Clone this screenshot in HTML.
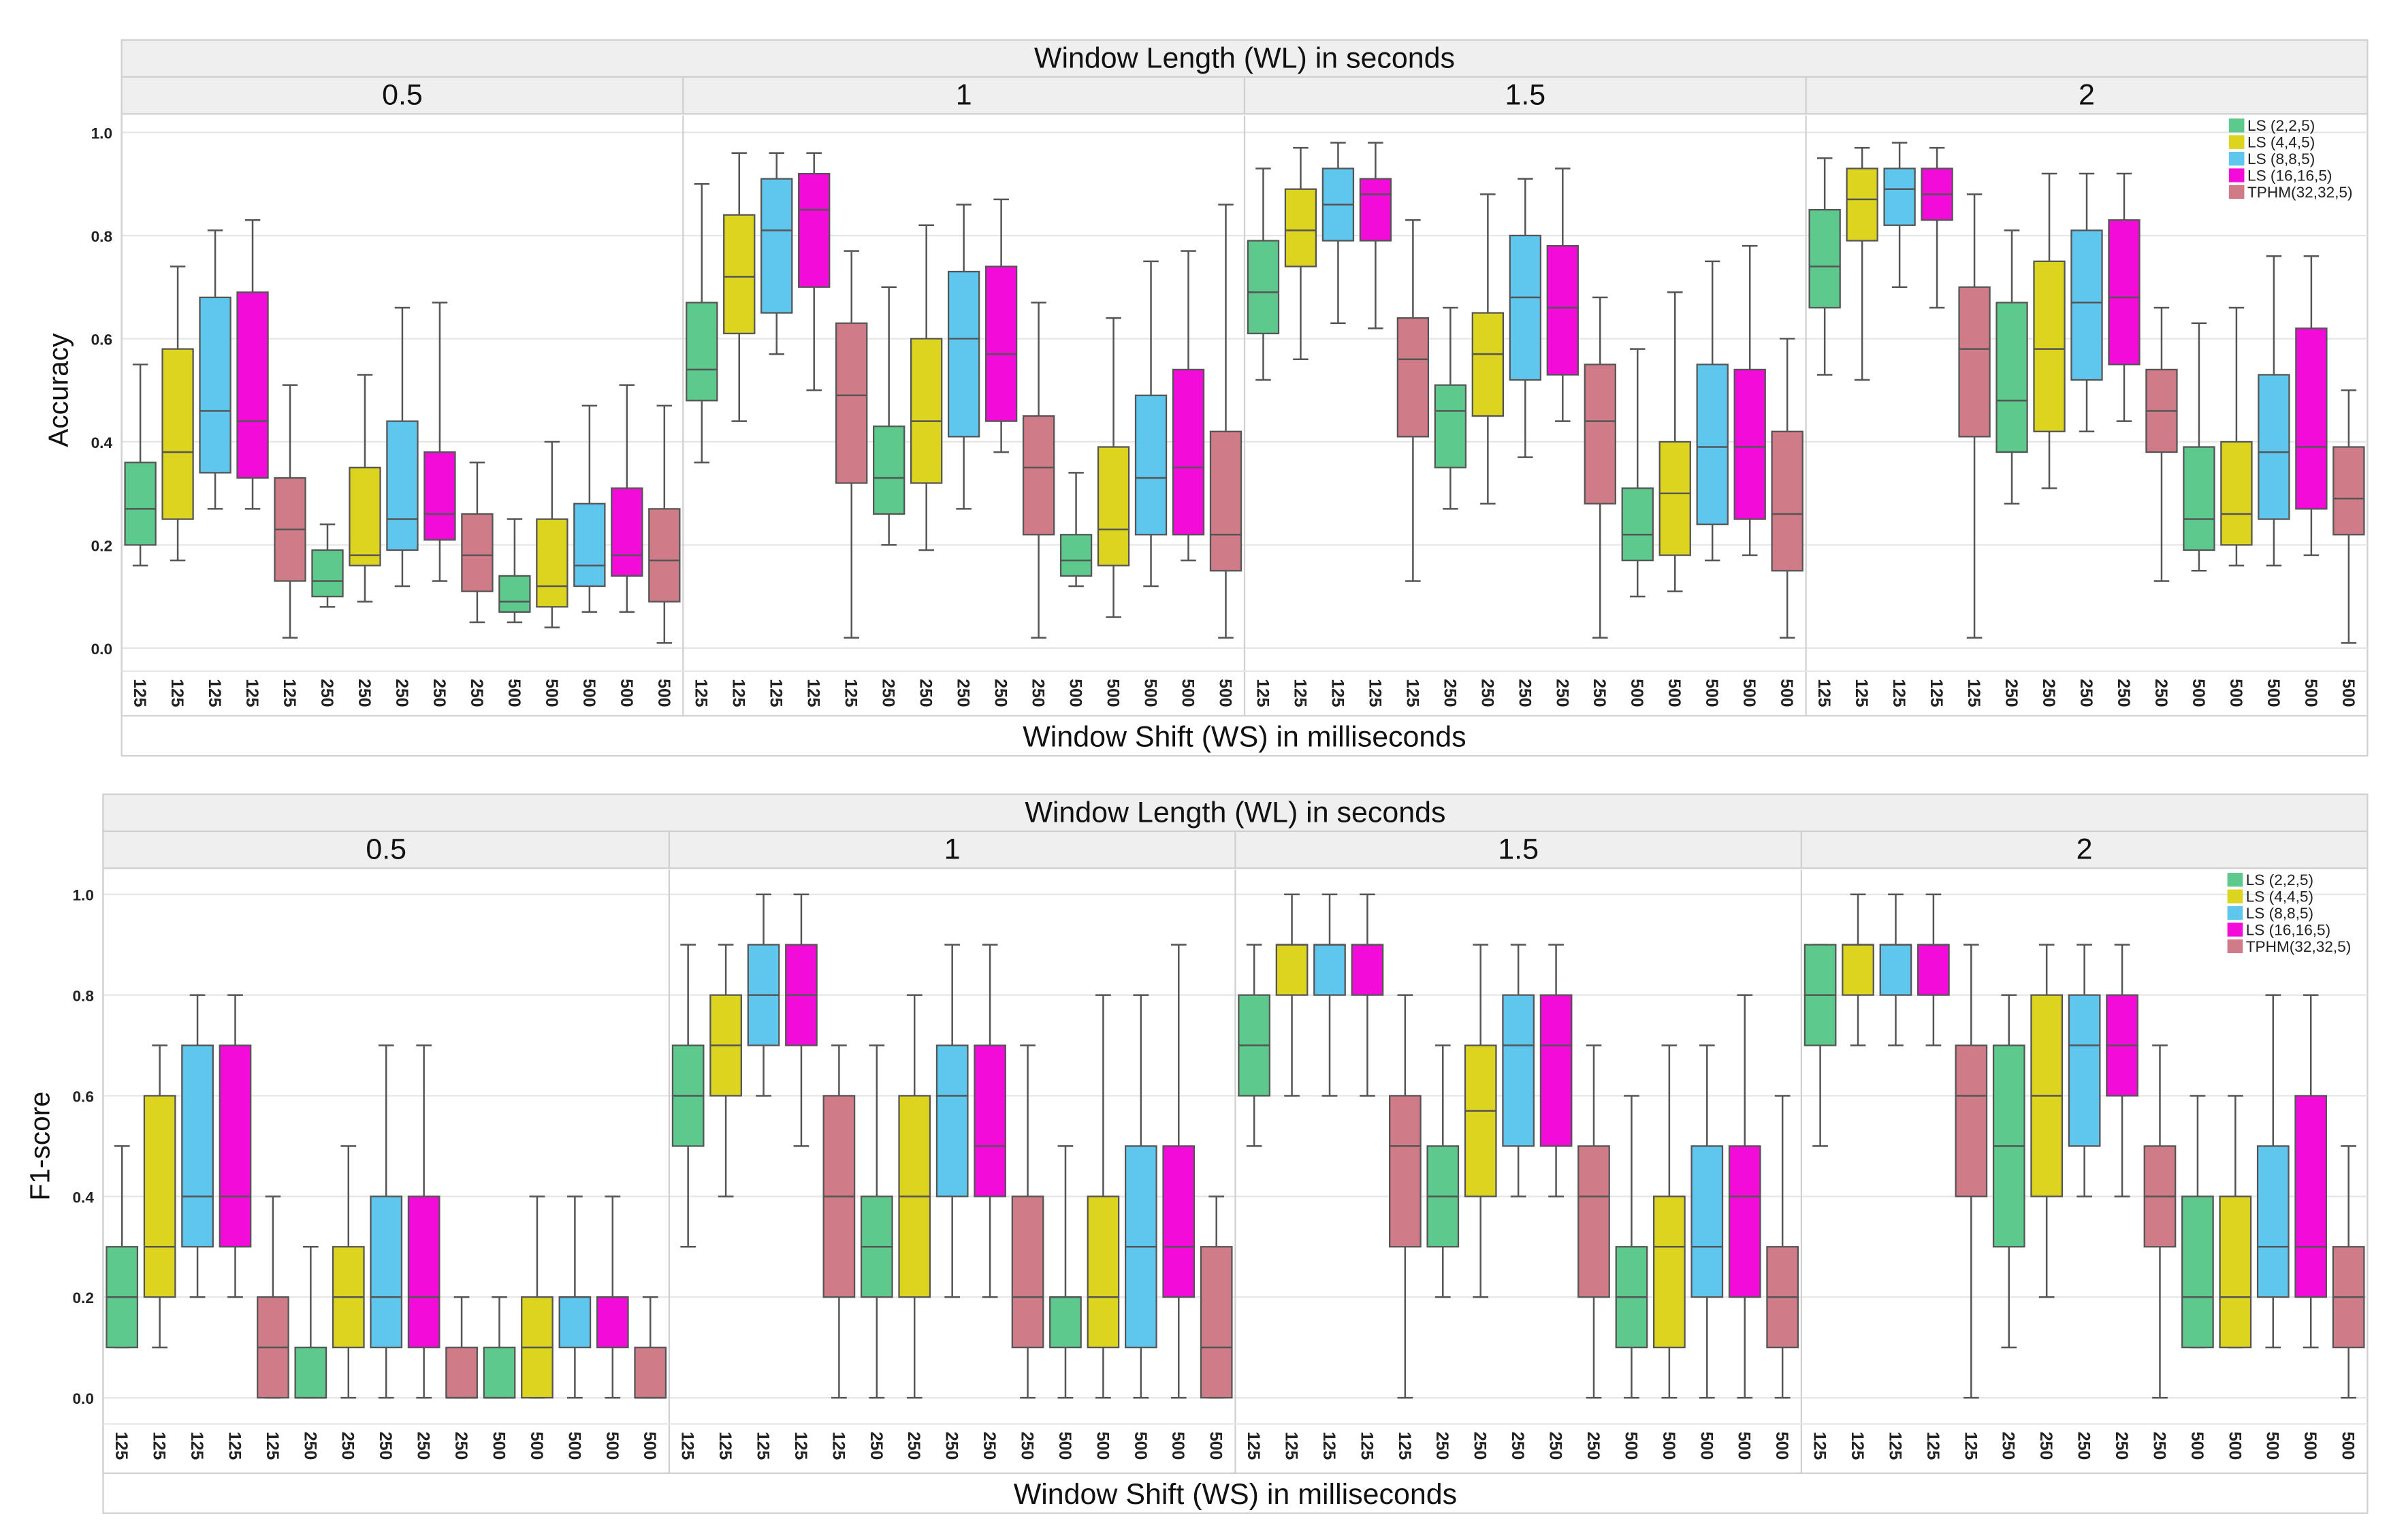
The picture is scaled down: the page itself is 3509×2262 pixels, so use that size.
<!DOCTYPE html>
<html><head><meta charset="utf-8"><style>
html,body{margin:0;padding:0;background:#fff;}
svg{display:block;font-family:"Liberation Sans",sans-serif;}
</style></head><body>
<svg id="chart" width="3509" height="2262" viewBox="0 0 1552 1000.4" preserveAspectRatio="none" xmlns="http://www.w3.org/2000/svg"></svg>
<script>
const wlLabels=["0.5","1","1.5","2"];
const wsLabels=["125","125","125","125","125","250","250","250","250","250","500","500","500","500","500"];
const seriesNames=["LS (2,2,5)","LS (4,4,5)","LS (8,8,5)","LS (16,16,5)","TPHM(32,32,5)"];
const seriesColors=["#5dc98c","#dcd41e","#5fc6ee","#f20bd9","#cf7b88"];
const yTicks=[0,0.2,0.4,0.6,0.8,1.0];

const accLo=[[0.16,0.17,0.27,0.27,0.02,0.08,0.09,0.12,0.13,0.05,0.05,0.04,0.07,0.07,0.01],
[0.36,0.44,0.57,0.50,0.02,0.20,0.19,0.27,0.38,0.02,0.12,0.06,0.12,0.17,0.02],
[0.52,0.56,0.63,0.62,0.13,0.27,0.28,0.37,0.44,0.02,0.10,0.11,0.17,0.18,0.02],
[0.53,0.52,0.70,0.66,0.02,0.28,0.31,0.42,0.44,0.13,0.15,0.16,0.16,0.18,0.01]];
const accQ1=[[0.20,0.25,0.34,0.33,0.13,0.10,0.16,0.19,0.21,0.11,0.07,0.08,0.12,0.14,0.09],
[0.48,0.61,0.65,0.70,0.32,0.26,0.32,0.41,0.44,0.22,0.14,0.16,0.22,0.22,0.15],
[0.61,0.74,0.79,0.79,0.41,0.35,0.45,0.52,0.53,0.28,0.17,0.18,0.24,0.25,0.15],
[0.66,0.79,0.82,0.83,0.41,0.38,0.42,0.52,0.55,0.38,0.19,0.20,0.25,0.27,0.22]];
const accMed=[[0.27,0.38,0.46,0.44,0.23,0.13,0.18,0.25,0.26,0.18,0.09,0.12,0.16,0.18,0.17],
[0.54,0.72,0.81,0.85,0.49,0.33,0.44,0.60,0.57,0.35,0.17,0.23,0.33,0.35,0.22],
[0.69,0.81,0.86,0.88,0.56,0.46,0.57,0.68,0.66,0.44,0.22,0.30,0.39,0.39,0.26],
[0.74,0.87,0.89,0.88,0.58,0.48,0.58,0.67,0.68,0.46,0.25,0.26,0.38,0.39,0.29]];
const accQ3=[[0.36,0.58,0.68,0.69,0.33,0.19,0.35,0.44,0.38,0.26,0.14,0.25,0.28,0.31,0.27],
[0.67,0.84,0.91,0.92,0.63,0.43,0.60,0.73,0.74,0.45,0.22,0.39,0.49,0.54,0.42],
[0.79,0.89,0.93,0.91,0.64,0.51,0.65,0.80,0.78,0.55,0.31,0.40,0.55,0.54,0.42],
[0.85,0.93,0.93,0.93,0.70,0.67,0.75,0.81,0.83,0.54,0.39,0.40,0.53,0.62,0.39]];
const accHi=[[0.55,0.74,0.81,0.83,0.51,0.24,0.53,0.66,0.67,0.36,0.25,0.40,0.47,0.51,0.47],
[0.90,0.96,0.96,0.96,0.77,0.70,0.82,0.86,0.87,0.67,0.34,0.64,0.75,0.77,0.86],
[0.93,0.97,0.98,0.98,0.83,0.66,0.88,0.91,0.93,0.68,0.58,0.69,0.75,0.78,0.60],
[0.95,0.97,0.98,0.97,0.88,0.81,0.92,0.92,0.92,0.66,0.63,0.66,0.76,0.76,0.50]];

const f1Lo=[[0.1,0.1,0.2,0.2,0,0,0,0,0,0,0,0,0,0,0],
[0.3,0.4,0.6,0.5,0,0,0,0.2,0.2,0,0,0,0,0,0],
[0.5,0.6,0.6,0.6,0,0.2,0.2,0.4,0.4,0,0,0,0,0,0],
[0.5,0.7,0.7,0.7,0,0.1,0.2,0.4,0.4,0,0.1,0.1,0.1,0.1,0]];
const f1Q1=[[0.1,0.2,0.3,0.3,0,0,0.1,0.1,0.1,0,0,0,0.1,0.1,0],
[0.5,0.6,0.7,0.7,0.2,0.2,0.2,0.4,0.4,0.1,0.1,0.1,0.1,0.2,0],
[0.6,0.8,0.8,0.8,0.3,0.3,0.4,0.5,0.5,0.2,0.1,0.1,0.2,0.2,0.1],
[0.7,0.8,0.8,0.8,0.4,0.3,0.4,0.5,0.6,0.3,0.1,0.1,0.2,0.2,0.1]];
const f1Med=[[0.2,0.3,0.4,0.4,0.1,0,0.2,0.2,0.2,0,0,0.1,0.2,0.2,0],
[0.6,0.7,0.8,0.8,0.4,0.3,0.4,0.6,0.5,0.2,0.2,0.2,0.3,0.3,0.1],
[0.7,0.9,0.9,0.9,0.5,0.4,0.57,0.7,0.7,0.4,0.2,0.3,0.3,0.4,0.2],
[0.8,0.9,0.9,0.9,0.6,0.5,0.6,0.7,0.7,0.4,0.2,0.2,0.3,0.3,0.2]];
const f1Q3=[[0.3,0.6,0.7,0.7,0.2,0.1,0.3,0.4,0.4,0.1,0.1,0.2,0.2,0.2,0.1],
[0.7,0.8,0.9,0.9,0.6,0.4,0.6,0.7,0.7,0.4,0.2,0.4,0.5,0.5,0.3],
[0.8,0.9,0.9,0.9,0.6,0.5,0.7,0.8,0.8,0.5,0.3,0.4,0.5,0.5,0.3],
[0.9,0.9,0.9,0.9,0.7,0.7,0.8,0.8,0.8,0.5,0.4,0.4,0.5,0.6,0.3]];
const f1Hi=[[0.5,0.7,0.8,0.8,0.4,0.3,0.5,0.7,0.7,0.2,0.2,0.4,0.4,0.4,0.2],
[0.9,0.9,1.0,1.0,0.7,0.7,0.8,0.9,0.9,0.7,0.5,0.8,0.8,0.9,0.4],
[0.9,1.0,1.0,1.0,0.8,0.7,0.9,0.9,0.9,0.7,0.6,0.7,0.7,0.8,0.6],
[0.9,1.0,1.0,1.0,0.9,0.8,0.9,0.9,0.9,0.7,0.6,0.6,0.8,0.8,0.5]];

const NS="http://www.w3.org/2000/svg";
const svg=document.getElementById('chart');
function mk(tag,attrs,parent,text){const e=document.createElementNS(NS,tag);for(const k in attrs)e.setAttribute(k,attrs[k]);if(text!==undefined)e.textContent=text;(parent||svg).appendChild(e);return e;}

function drawChart(cfg){
  const g=mk('g',{});
  
  
  const L=cfg.left,R=cfg.right,T=cfg.top;
  const y0=cfg.y0,y1=cfg.y1;
  const yS=v=>y0-(y0-y1)*v;
  const stripH=24;
  // outer frame
  mk('rect',{x:L,y:T,width:R-L,height:cfg.bottom-T,fill:'#fff',stroke:'#d0d0d0','stroke-width':1},g);
  const t1=mk('rect',{x:L,y:T,width:R-L,height:stripH,fill:'#efefef',stroke:'#d0d0d0'},g);
  
  
  const tt=mk('text',{x:(L+R)/2,y:T+18,'text-anchor':'middle','font-size':19,fill:'#111'},g,'Window Length (WL) in seconds');
  
  
  const pw=(R-L)/4;
  const plotTop=T+2*stripH+1, plotBot=cfg.plotBottom;
  for(let p=0;p<4;p++){
    const px=L+p*pw;
    const hs=mk('rect',{x:px,y:T+stripH,width:pw,height:stripH,fill:'#efefef',stroke:'#d0d0d0'},g);
    
    
    const ht=mk('text',{x:px+pw/2,y:T+stripH+18,'text-anchor':'middle','font-size':19,fill:'#111'},g,wlLabels[p]);
    
    
    // grid
    yTicks.forEach(v=>{const gl=mk('line',{x1:px,x2:px+pw,y1:yS(v),y2:yS(v),stroke:'#e6e6e6','stroke-width':1},g);
      });
    mk('line',{x1:px,x2:px,y1:plotTop,y2:cfg.bottom-26,stroke:'#d0d0d0'},g);
    const slot=pw/15;
    for(let i=0;i<15;i++){
      const cx=px+slot*(i+0.5), bw=slot*0.82, c=seriesColors[i%5];
      const lo=cfg.lo[p][i],q1=cfg.q1[p][i],md=cfg.med[p][i],q3=cfg.q3[p][i],hi=cfg.hi[p][i];
      const wl=mk('line',{x1:cx,x2:cx,y1:yS(lo),y2:yS(hi),stroke:'#555','stroke-width':1.1},g);
      
      mk('line',{x1:cx-bw/4,x2:cx+bw/4,y1:yS(lo),y2:yS(lo),stroke:'#555','stroke-width':1.1},g);
      mk('line',{x1:cx-bw/4,x2:cx+bw/4,y1:yS(hi),y2:yS(hi),stroke:'#555','stroke-width':1.1},g);
      const b=mk('rect',{x:cx-bw/2,y:yS(q3),width:bw,height:Math.max(0.5,yS(q1)-yS(q3)),fill:c,stroke:'#555','stroke-width':1},g);
      
      
      const ml=mk('line',{x1:cx-bw/2,x2:cx+bw/2,y1:yS(md),y2:yS(md),stroke:'#555','stroke-width':1.1},g);
      
      const tl=mk('text',{transform:`translate(${cx-4},${plotBot+5}) rotate(90)`,'font-size':11,'font-weight':'bold',fill:'#222'},g,wsLabels[i]);
      
    }
  }
  mk('line',{x1:L,x2:R,y1:plotBot,y2:plotBot,stroke:'#e6e6e6'},g);
  mk('line',{x1:L,x2:R,y1:cfg.bottom-26,y2:cfg.bottom-26,stroke:'#d0d0d0'},g);
  yTicks.forEach(v=>{const t=mk('text',{x:L-6,y:yS(v)+4,'text-anchor':'end','font-size':10,'font-weight':'bold',fill:'#222'},g,v.toFixed(1));
    });
  const yt=mk('text',{transform:`translate(${cfg.ytitleX},${(y0+y1)/2}) rotate(-90)`,'text-anchor':'middle','font-size':18,fill:'#111'},g,cfg.ytitle);
  
  const xt=mk('text',{x:(L+R)/2,y:cfg.bottom-6,'text-anchor':'middle','font-size':19,fill:'#111'},g,'Window Shift (WS) in milliseconds');
  
  // legend
  const lg=mk('g',{},g);
  
  seriesNames.forEach((n,k)=>{
    const ly=cfg.legendY+k*10.8;
    const sw=mk('rect',{x:cfg.legendX,y:ly,width:10,height:9,fill:seriesColors[k]},lg);
    
    const lt=mk('text',{x:cfg.legendX+12,y:ly+8,'font-size':10,fill:'#222'},lg,n);
    
  });
}
drawChart({name:'accuracy-chart',left:79,right:1538,top:26,bottom:491,y0:421,y1:86,plotBottom:436,
  lo:accLo,q1:accQ1,med:accMed,q3:accQ3,hi:accHi,ytitle:'Accuracy',ytitleX:44,legendX:1448,legendY:77});
drawChart({name:'f1-chart',left:67,right:1538,top:516,bottom:983,y0:908,y1:581,plotBottom:925,
  lo:f1Lo,q1:f1Q1,med:f1Med,q3:f1Q3,hi:f1Hi,ytitle:'F1-score',ytitleX:32,legendX:1447,legendY:567});
</script>
</body></html>
